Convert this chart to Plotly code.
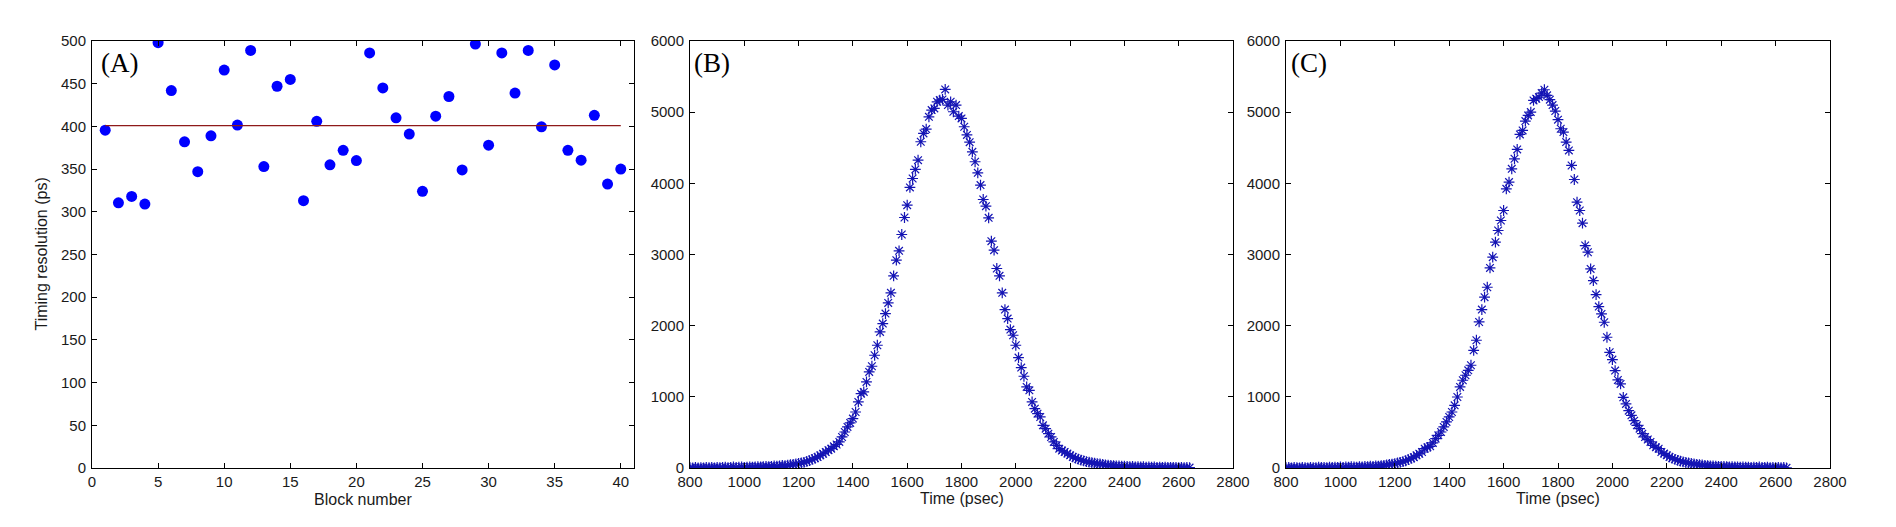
import plotly.graph_objects as go

# ---------------- Data ----------------
# Panel A: timing resolution per block
block_number = list(range(1, 41))
timing_resolution = [
    395.6, 310.5, 318, 309, 498, 442, 382, 347, 389, 466,
    401.5, 489, 353, 447, 455, 313, 406, 355, 372, 360,
    486, 445, 410, 391, 324, 412, 435, 349, 496.5, 378,
    486, 439, 489, 399.5, 472, 372, 360.5, 413, 332.5, 350,
]
mean_resolution = 401
mean_line_x = [1, 40]

# Panels B and C: timing spectra (bins every 10 psec from 800 to 2640)
time_psec = list(range(800, 2650, 10))
counts_B = [
    5, 2, 8, 3, 6, 1, 9, 4, 7, 3,
    10, 5, 8, 12, 6, 9, 14, 7, 11, 15,
    9, 13, 17, 12, 16, 20, 15, 19, 24, 18,
    23, 28, 26, 31, 35, 33, 40, 46, 50, 56,
    64, 72, 80, 92, 104, 120, 138, 155, 178, 200,
    225, 250, 272, 305, 330, 366, 436, 506, 577, 633,
    694, 787, 928, 1045, 1069, 1209, 1350, 1430, 1584, 1725,
    1912, 2029, 2170, 2320, 2461, 2700, 2920, 3051, 3281, 3520,
    3693, 3942, 4068, 4195, 4326, 4584, 4701, 4762, 4935, 5029,
    5053, 5146, 5170, 5179, 5320, 5099, 5146, 5006, 5099, 4945,
    4912, 4795, 4680, 4579, 4443, 4303, 4148, 3975, 3773, 3679,
    3515, 3187, 3061, 2803, 2700, 2461, 2226, 2100, 1945, 1865,
    1725, 1551, 1411, 1289, 1139, 1092, 928, 834, 764, 717,
    600, 553, 483, 436, 366, 319, 272, 245, 225, 202,
    178, 155, 140, 125, 112, 100, 90, 82, 74, 68,
    62, 56, 50, 45, 40, 37, 33, 30, 28, 25,
    26, 21, 19, 22, 17, 18, 14, 18, 13, 15,
    12, 14, 10, 13, 9, 11, 8, 10, 7, 9,
    6, 8, 5, 7, 6,
]
counts_C = [
    4, 7, 2, 9, 5, 3, 8, 6, 2, 10,
    6, 4, 11, 7, 9, 5, 12, 8, 13, 10,
    14, 9, 16, 12, 18, 15, 13, 20, 17, 22,
    19, 25, 23, 29, 27, 34, 38, 42, 49, 55,
    62, 70, 79, 90, 102, 118, 135, 152, 178, 200,
    225, 272, 290, 305, 352, 412, 459, 506, 577, 647,
    717, 787, 881, 998, 1139, 1233, 1303, 1373, 1444, 1654,
    1795, 2052, 2226, 2400, 2540, 2812, 2962, 3173, 3337, 3478,
    3618, 3923, 4017, 4204, 4345, 4476, 4687, 4743, 4875, 4954,
    5001, 5165, 5189, 5212, 5268, 5315, 5236, 5175, 5100, 5016,
    4894, 4767, 4720, 4580, 4462, 4251, 4054, 3735, 3618, 3440,
    3126, 3032, 2798, 2634, 2437, 2268, 2165, 2048, 1837, 1626,
    1523, 1369, 1237, 1181, 993, 900, 806, 740, 665, 600,
    553, 483, 436, 400, 366, 319, 290, 272, 225, 202,
    178, 155, 138, 122, 108, 96, 86, 77, 70, 63,
    57, 51, 46, 42, 38, 34, 31, 28, 25, 23,
    21, 24, 18, 16, 20, 14, 17, 12, 15, 11,
    13, 9, 12, 8, 14, 10, 7, 11, 6, 9,
    5, 8, 4, 7, 3,
]

panel_labels = ["(A)", "(B)", "(C)"]

# ---------------- Figure geometry (figure fills the 1896x527 page) ----------------
W, H = 1896, 527


def px(xp):
    return xp / W


def py(yp):
    return 1 - yp / H


TICK_FONT = dict(family="Liberation Sans, Arial, sans-serif", size=15, color="#1a1a1a")
TITLE_FONT = dict(family="Liberation Sans, Arial, sans-serif", size=16, color="#1a1a1a")
LABEL_FONT = dict(family="Liberation Serif, Times New Roman, serif", size=27, color="#000000")

fig = go.Figure()

fig.add_trace(go.Scatter(
    x=block_number, y=timing_resolution, mode="markers",
    marker=dict(symbol="circle", size=11, color="#0000FF", line=dict(width=0)),
    xaxis="x", yaxis="y", showlegend=False,
))
fig.add_trace(go.Scatter(
    x=mean_line_x, y=[mean_resolution, mean_resolution], mode="lines",
    line=dict(color="#8E1A1A", width=1.2),
    xaxis="x", yaxis="y", showlegend=False,
))
for counts, xa, ya in [(counts_B, "x2", "y2"), (counts_C, "x3", "y3")]:
    fig.add_trace(go.Scatter(
        x=time_psec, y=counts, mode="markers",
        marker=dict(symbol="asterisk-open", size=9, color="#1414B4",
                    line=dict(width=1.2, color="#1414B4")),
        xaxis=xa, yaxis=ya, showlegend=False,
    ))

ydom = [py(468), py(41)]
xdoms = [[px(92), px(634)], [px(690), px(1233)], [px(1286), px(1830)]]

common_axis = dict(
    showline=True, linecolor="#000000", linewidth=1, mirror="ticks",
    ticks="inside", ticklen=5, tickwidth=1, tickcolor="#000000",
    showgrid=False, zeroline=False, tickfont=TICK_FONT, automargin=False,
)

fig.update_layout(
    width=W, height=H,
    margin=dict(l=0, r=0, t=0, b=0),
    paper_bgcolor="white", plot_bgcolor="white",
    xaxis=dict(domain=xdoms[0], range=[0, 41], tickmode="linear", tick0=0, dtick=5,
               anchor="y", **common_axis),
    yaxis=dict(domain=ydom, range=[0, 500], tickmode="linear", tick0=0, dtick=50,
               anchor="x", ticklabelstandoff=2, **common_axis),
    xaxis2=dict(domain=xdoms[1], range=[800, 2800], tickmode="linear", tick0=800, dtick=200,
                anchor="y2", **common_axis),
    yaxis2=dict(domain=ydom, range=[0, 6000], tickmode="linear", tick0=0, dtick=1000,
                anchor="x2", ticklabelstandoff=2, **common_axis),
    xaxis3=dict(domain=xdoms[2], range=[800, 2800], tickmode="linear", tick0=800, dtick=200,
                anchor="y3", **common_axis),
    yaxis3=dict(domain=ydom, range=[0, 6000], tickmode="linear", tick0=0, dtick=1000,
                anchor="x3", ticklabelstandoff=2, **common_axis),
)

annotations = []
# Axis titles
annotations.append(dict(text="Block number", xref="x domain", x=0.5, yref="paper",
                        y=py(499), xanchor="center", yanchor="middle",
                        showarrow=False, font=TITLE_FONT))
for xr in ["x2 domain", "x3 domain"]:
    annotations.append(dict(text="Time (psec)", xref=xr, x=0.5, yref="paper",
                            y=py(498), xanchor="center", yanchor="middle",
                            showarrow=False, font=TITLE_FONT))
annotations.append(dict(text="Timing resolution (ps)", xref="paper", x=px(41),
                        yref="y domain", y=0.5, xanchor="center", yanchor="middle",
                        textangle=-90, showarrow=False, font=TITLE_FONT))
# Panel labels
for lbl, xr, yr, xs in zip(panel_labels, ["x domain", "x2 domain", "x3 domain"],
                           ["y domain", "y2 domain", "y3 domain"], [7, 2, 3]):
    annotations.append(dict(text=lbl, xref=xr, x=0, yref=yr, y=1,
                            xanchor="left", yanchor="middle", xshift=xs, yshift=-22,
                            showarrow=False, font=LABEL_FONT))
fig.update_layout(annotations=annotations)

fig.write_html("out.html")
